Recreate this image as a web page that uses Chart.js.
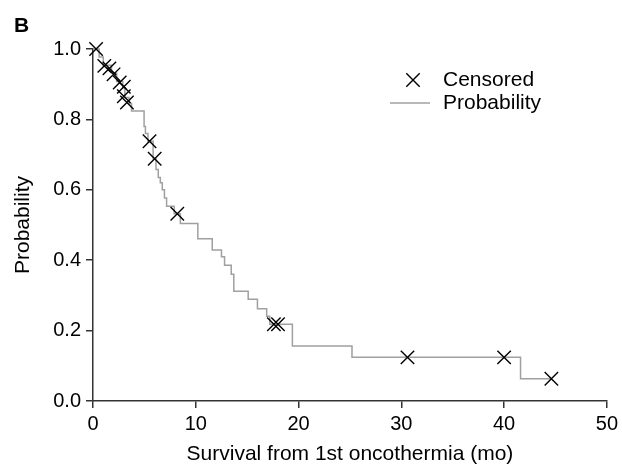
<!DOCTYPE html>
<html>
<head>
<meta charset="utf-8">
<script src="https://cdn.jsdelivr.net/npm/chart.js@4.4.1/dist/chart.umd.min.js"></script>
<style>
  html, body { margin: 0; padding: 0; background: #fff; }
  #wrap { width: 622px; height: 467px; position: relative; }
</style>
</head>
<body>
<div id="wrap"><canvas id="c" width="622" height="467"></canvas></div>
<script>
// Kaplan-Meier step curve (time in months, survival probability after the drop)
const stepTimes = [0, 0.6, 1.0, 1.8, 2.3, 2.9, 3.1, 3.5, 3.75, 4.97, 5.1, 5.35, 5.85, 6.13, 6.35, 6.55, 6.74, 6.95, 7.16, 7.9, 8.5, 10.2, 11.6, 12.5, 12.8, 13.45, 13.7, 15.1, 16.0, 16.9, 17.2, 19.4, 25.2, 41.6, 44.6];
const stepProb  = [1.0, 0.977, 0.954, 0.931, 0.908, 0.89, 0.862, 0.845, 0.824, 0.78, 0.76, 0.738, 0.688, 0.658, 0.635, 0.62, 0.60, 0.577, 0.553, 0.532, 0.504, 0.461, 0.429, 0.41, 0.386, 0.36, 0.312, 0.289, 0.262, 0.241, 0.218, 0.156, 0.124, 0.063, 0.063];
// Censored observations
const censorTimes = [0.3, 1.1, 1.6, 2.0, 2.6, 3.0, 3.0, 3.3, 5.5, 6.0, 8.2, 17.6, 18.0, 30.6, 40.0, 44.6];
const censorProb  = [1.0, 0.952, 0.945, 0.928, 0.905, 0.893, 0.866, 0.848, 0.738, 0.688, 0.532, 0.218, 0.218, 0.124, 0.124, 0.063];
// Axis ticks
const xTicks = [0, 10, 20, 30, 40, 50];
const yTicks = [0.0, 0.2, 0.4, 0.6, 0.8, 1.0];
const seriesNames = ['Censored', 'Probability'];
const panelLabel = 'B';
const xTitle = 'Survival from 1st oncothermia (mo)';
const yTitle = 'Probability';

const FONT = "'Liberation Sans', Arial, Helvetica, sans-serif";
const AXIS = '#333333';
const CURVE = '#a0a0a0';

const overlay = {
  id: 'overlay',
  afterDraw(chart) {
    const ctx = chart.ctx;
    const a = chart.chartArea;
    ctx.save();
    // panel letter
    ctx.fillStyle = '#000';
    ctx.font = 'bold 21px ' + FONT;
    ctx.textAlign = 'left';
    ctx.textBaseline = 'middle';
    ctx.fillText(panelLabel, 14, 26);
    // legend
    const lx = a.left + 320;
    const ly1 = a.top + 31;
    const ly2 = a.top + 54;
    ctx.strokeStyle = '#000';
    ctx.lineWidth = 1.4;
    Chart.helpers.drawPoint(ctx, { pointStyle: 'crossRot', radius: 9.5, rotation: 0, borderWidth: 1.4 }, lx, ly1);
    ctx.strokeStyle = CURVE;
    ctx.lineWidth = 1.5;
    ctx.beginPath();
    ctx.moveTo(lx - 23, ly2);
    ctx.lineTo(lx + 17, ly2);
    ctx.stroke();
    ctx.fillStyle = '#000';
    ctx.font = '21px ' + FONT;
    ctx.textBaseline = 'middle';
    ctx.fillText(seriesNames[0], lx + 30, ly1);
    ctx.fillText(seriesNames[1], lx + 30, ly2);
    ctx.restore();
  }
};

new Chart(document.getElementById('c'), {
  data: {
    datasets: [
      {
        type: 'scatter',
        label: seriesNames[0],
        data: censorTimes.map((t, i) => ({ x: t, y: censorProb[i] })),
        pointStyle: 'crossRot',
        pointRadius: 9.5,
        pointHoverRadius: 9.5,
        borderColor: '#000',
        backgroundColor: '#000',
        pointBorderWidth: 1.4,
        showLine: false,
        clip: false
      },
      {
        type: 'line',
        label: seriesNames[1],
        data: stepTimes.map((t, i) => ({ x: t, y: stepProb[i] })),
        stepped: 'before',
        borderColor: CURVE,
        borderWidth: 1.5,
        pointRadius: 0,
        fill: false,
        clip: false
      }
    ]
  },
  options: {
    responsive: false,
    animation: false,
    devicePixelRatio: 1,
    layout: { padding: { top: 49, right: 14, left: 11, bottom: 0 } },
    plugins: { legend: { display: false }, tooltip: { enabled: false } },
    scales: {
      x: {
        type: 'linear',
        min: 0, max: 50,
        afterFit(s) { s.height = 66; },
        afterBuildTicks(s) { s.ticks = xTicks.map(v => ({ value: v })); },
        border: { display: true, color: AXIS, width: 1.5 },
        grid: { display: true, drawOnChartArea: false, drawTicks: true, tickLength: 7, color: AXIS, lineWidth: 1.5 },
        ticks: { color: '#000', font: { family: FONT, size: 20 }, padding: 4, maxRotation: 0 },
        title: { display: true, text: xTitle, color: '#000', font: { family: FONT, size: 21 }, padding: { top: 2, bottom: 0 } }
      },
      y: {
        type: 'linear',
        min: 0, max: 1,
        afterFit(s) { s.width = 82; },
        afterBuildTicks(s) { s.ticks = yTicks.map(v => ({ value: v })); },
        border: { display: true, color: AXIS, width: 1.5 },
        grid: { display: true, drawOnChartArea: false, drawTicks: true, tickLength: 7, color: AXIS, lineWidth: 1.5 },
        ticks: { color: '#000', font: { family: FONT, size: 20 }, padding: 5, callback: v => Number(v).toFixed(1) },
        title: { display: true, text: yTitle, color: '#000', font: { family: FONT, size: 21 }, padding: { top: 0, bottom: 4 } }
      }
    }
  },
  plugins: [overlay]
});
</script>
</body>
</html>
